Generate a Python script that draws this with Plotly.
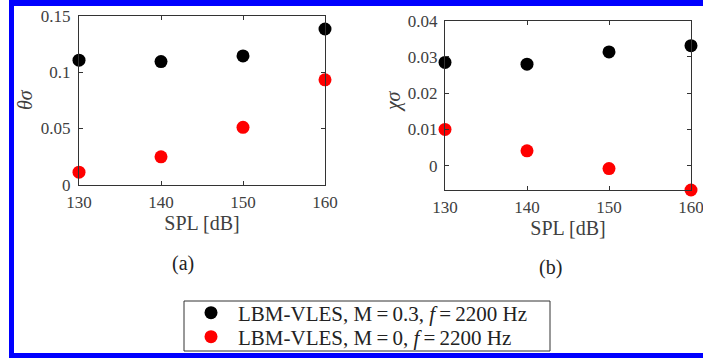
import plotly.graph_objects as go

# Sound pressure levels (dB)
spl = [130, 140, 150, 160]

# theta_sigma values per case
theta_m03 = [0.1105, 0.1093, 0.1143, 0.1382]
theta_m0 = [0.0111, 0.0247, 0.0509, 0.0931]

# chi_sigma values per case
chi_m03 = [0.0285, 0.0280, 0.0314, 0.0331]
chi_m0 = [0.0100, 0.0041, -0.0008, -0.0067]

series_names = [
    "LBM-VLES, M\u2009=\u20090.3, <i>f</i>\u2009=\u20092200 Hz",
    "LBM-VLES, M\u2009=\u20090, <i>f</i>\u2009=\u20092200 Hz",
]

x_ticks = [130, 140, 150, 160]
theta_ticks = [0, 0.05, 0.1, 0.15]
theta_tick_text = ["0", "0.05", "0.1", "0.15"]
chi_ticks = [0, 0.01, 0.02, 0.03, 0.04]
chi_tick_text = ["0", "0.01", "0.02", "0.03", "0.04"]

W, H = 703, 360
FONT = "Liberation Serif, Times New Roman, serif"
TICK_COLOR = "#404040"
LINE_COLOR = "#333333"


def px(x):
    return x / W


def py(y):
    return 1 - y / H


fig = go.Figure()

marker_style = dict(size=13, line=dict(width=0))

# each series gets its own legend row so the row spacing can be set freely
fig.add_trace(go.Scatter(x=spl, y=theta_m03, mode="markers", name=series_names[0],
                         marker=dict(color="black", **marker_style), legend="legend",
                         xaxis="x", yaxis="y", cliponaxis=False))
fig.add_trace(go.Scatter(x=spl, y=theta_m0, mode="markers", name=series_names[1],
                         marker=dict(color="#ff0000", **marker_style), legend="legend2",
                         xaxis="x", yaxis="y", cliponaxis=False))
fig.add_trace(go.Scatter(x=spl, y=chi_m03, mode="markers", name=series_names[0],
                         marker=dict(color="black", **marker_style), showlegend=False,
                         xaxis="x2", yaxis="y2", cliponaxis=False))
fig.add_trace(go.Scatter(x=spl, y=chi_m0, mode="markers", name=series_names[1],
                         marker=dict(color="#ff0000", **marker_style), showlegend=False,
                         xaxis="x2", yaxis="y2", cliponaxis=False))

axis_common = dict(
    showline=True, linecolor=LINE_COLOR, linewidth=1, mirror="ticks",
    ticks="inside", ticklen=4, tickcolor=LINE_COLOR, tickwidth=1,
    showgrid=False, zeroline=False, automargin=False, ticklabeloverflow="allow",
    tickfont=dict(family=FONT, size=17, color=TICK_COLOR),
)

title_font = dict(family=FONT, size=20, color=TICK_COLOR)

legend_common = dict(
    xanchor="left", yanchor="middle", borderwidth=0, bgcolor="rgba(0,0,0,0)",
    font=dict(family=FONT, size=21, color="#222222"), itemwidth=44,
)

fig.update_layout(
    width=W, height=H,
    margin=dict(l=0, r=0, t=0, b=0),
    paper_bgcolor="white", plot_bgcolor="white",
    font=dict(family=FONT, color=TICK_COLOR),
    xaxis=dict(domain=[px(79), px(325)], range=[130, 160], anchor="y",
               tickvals=x_ticks, ticklabelstandoff=2,
               title=dict(text="SPL [dB]", font=title_font, standoff=4),
               **axis_common),
    yaxis=dict(domain=[py(184.7), py(15.7)], range=[0, 0.15], anchor="x",
               tickvals=theta_ticks, ticktext=theta_tick_text, ticklabelstandoff=4,
               **axis_common),
    xaxis2=dict(domain=[px(445), px(691)], range=[130, 160], anchor="y2",
                tickvals=x_ticks, ticklabelstandoff=2,
                title=dict(text="SPL [dB]", font=title_font, standoff=4),
                **axis_common),
    yaxis2=dict(domain=[py(190), py(20.7)], range=[-0.0067, 0.04], anchor="x2",
                tickvals=chi_ticks, ticktext=chi_tick_text, ticklabelstandoff=3,
                **axis_common),
    legend=dict(x=px(184), y=py(313), **legend_common),
    legend2=dict(x=px(184), y=py(337), **legend_common),
    showlegend=True,
)

# legend frame
fig.add_shape(type="rect", xref="paper", yref="paper",
              x0=px(184), x1=px(550), y0=py(351), y1=py(301),
              line=dict(color=LINE_COLOR, width=1), fillcolor="white", layer="below")

# y-axis labels and panel captions
label_common = dict(xref="paper", yref="paper", showarrow=False,
                    xanchor="center", yanchor="middle")
fig.add_annotation(x=px(25), y=py(100), text="<i>θσ</i>", textangle=-90,
                   font=title_font, **label_common)
fig.add_annotation(x=px(393), y=py(102), text="<i>χσ</i>", textangle=-90,
                   font=title_font, **label_common)
fig.add_annotation(x=px(183), y=py(263), text="(a)",
                   font=dict(family=FONT, size=20, color="#222222"), **label_common)
fig.add_annotation(x=px(550), y=py(267), text="(b)",
                   font=dict(family=FONT, size=20, color="#222222"), **label_common)

# blue frame around the figure
BLUE = "#0000ff"
for x0, y0, x1, y1 in [(9, 0, 14, 358), (9, 0, 703, 6), (9, 353, 703, 358)]:
    fig.add_shape(type="rect", xref="paper", yref="paper",
                  x0=px(x0), x1=px(x1), y0=py(y1), y1=py(y0),
                  fillcolor=BLUE, line=dict(width=0), layer="below")

fig.write_html("out.html")
